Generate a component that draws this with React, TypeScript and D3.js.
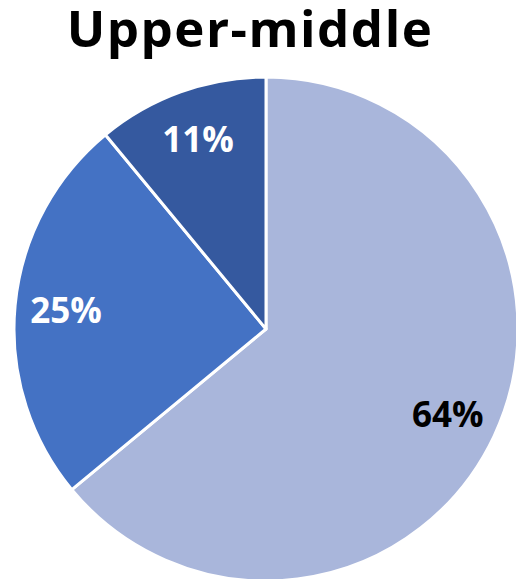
import React from "react";
import * as d3 from "d3";

const title = "Upper-middle";
const labels = ["64%", "25%", "11%"];
const values = [64, 25, 11];
const colors = ["#A9B6DB", "#4472C4", "#35599F"];
const textColors = ["#000000", "#FFFFFF", "#FFFFFF"];

export default function App() {
  const width = 516;
  const height = 579;
  const cx = 266;
  const cy = 329;
  const r = 252;
  const pie = d3.pie<number>().sort(null).value((d) => d);
  const arcs = pie(values);
  const arc = d3.arc<d3.PieArcDatum<number>>().innerRadius(0).outerRadius(r);
  const labelArc = d3.arc<d3.PieArcDatum<number>>().innerRadius(201).outerRadius(201);
  return (
    <svg
      width={width}
      height={height}
      style={{ position: "absolute", left: 0, top: 0, background: "#fff" }}
      fontFamily="'Open Sans', Carlito, Calibri, sans-serif"
    >
      <text x={250} y={47} textAnchor="middle" fontSize={51} fontWeight="bold" letterSpacing={1.5} fill="#000">
        {title}
      </text>
      <g transform={`translate(${cx},${cy})`}>
        {arcs.map((a, i) => (
          <path key={i} d={arc(a) || ""} fill={colors[i]} stroke="#fff" strokeWidth={3} strokeLinejoin="round" />
        ))}
        {arcs.map((a, i) => {
          const [x, y] = labelArc.centroid(a);
          return (
            <text
              key={"t" + i}
              x={x}
              y={y + 12.5}
              textAnchor="middle"
              fontSize={35}
              fontWeight="bold"
              fill={textColors[i]}
            >
              {labels[i]}
            </text>
          );
        })}
      </g>
    </svg>
  );
}
